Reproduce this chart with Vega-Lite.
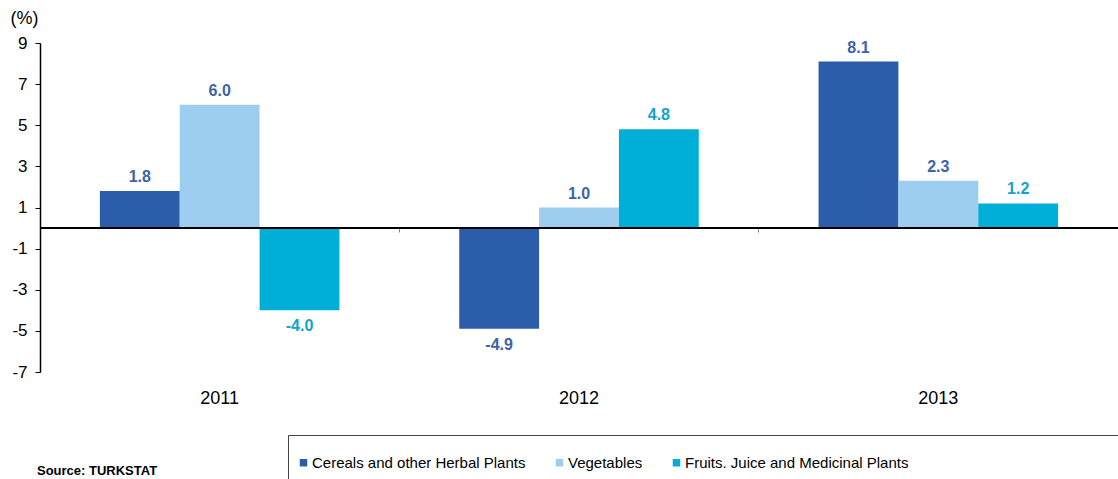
{
  "$schema": "https://vega.github.io/schema/vega-lite/v6.json",
  "width": 1078,
  "height": 329,
  "autosize": {"type": "none"},
  "padding": {"left": 40, "top": 43, "right": 0, "bottom": 107},
  "background": "white",
  "config": {"view": {"stroke": null}, "font": "Liberation Sans", "locale": {"number": {"decimal": ".", "thousands": ",", "grouping": [3], "currency": ["$", ""], "minus": "-"}}},
  "title": {"text": "Source: TURKSTAT", "orient": "bottom", "anchor": "start", "fontSize": 13, "fontWeight": "bold", "color": "#000000", "offset": -9, "dx": 27, "baseline": "middle"},
  "data": {"values": [
    {"year": "2011", "series": "Cereals and other Herbal Plants", "value": 1.8},
    {"year": "2011", "series": "Vegetables", "value": 6.0},
    {"year": "2011", "series": "Fruits. Juice and Medicinal Plants", "value": -4.0},
    {"year": "2012", "series": "Cereals and other Herbal Plants", "value": -4.9},
    {"year": "2012", "series": "Vegetables", "value": 1.0},
    {"year": "2012", "series": "Fruits. Juice and Medicinal Plants", "value": 4.8},
    {"year": "2013", "series": "Cereals and other Herbal Plants", "value": 8.1},
    {"year": "2013", "series": "Vegetables", "value": 2.3},
    {"year": "2013", "series": "Fruits. Juice and Medicinal Plants", "value": 1.2}
  ]},
  "resolve": {"axis": {"x": "independent"}, "scale": {"color": "independent"}},
  "layer": [
    {
      "mark": {"type": "bar"},
      "encoding": {
        "x": {"field": "year", "type": "nominal", "scale": {"paddingInner": 0, "paddingOuter": 0},
              "axis": {"orient": "bottom", "offset": -144, "domain": false, "labels": false, "ticks": true, "tickSize": 4, "tickColor": "#888888", "bandPosition": 0, "title": null, "grid": false}},
        "xOffset": {"field": "series", "type": "nominal", "sort": ["Cereals and other Herbal Plants", "Vegetables", "Fruits. Juice and Medicinal Plants"], "scale": {"paddingInner": 0, "paddingOuter": 0.75}},
        "y": {"field": "value", "type": "quantitative", "scale": {"domain": [-7, 9], "nice": false, "zero": false},
              "axis": {"values": [-7, -5, -3, -1, 1, 3, 5, 7, 9], "grid": false, "domainColor": "#000000", "domainWidth": 1.5, "tickColor": "#000000", "tickSize": 5, "labelFontSize": 17, "labelColor": "#000000", "labelPadding": 8, "title": "(%)", "titleAngle": 0, "titleAlign": "left", "titleBaseline": "middle", "titleX": -30, "titleY": -25, "titleFontSize": 18, "titleFontWeight": "normal", "titleColor": "#000000"}},
        "color": {"field": "series", "type": "nominal", "sort": ["Cereals and other Herbal Plants", "Vegetables", "Fruits. Juice and Medicinal Plants"],
                  "scale": {"domain": ["Cereals and other Herbal Plants", "Vegetables", "Fruits. Juice and Medicinal Plants"], "range": ["#2B5DAA", "#9DCEF0", "#00AFD7"]},
                  "legend": {"orient": "none", "legendX": 248, "legendY": 392, "direction": "horizontal", "title": " ", "titleFontSize": 6, "titlePadding": 6, "padding": 8, "strokeColor": "#444444", "symbolType": "square", "symbolSize": 56, "symbolStrokeWidth": 0, "labelFontSize": 15, "labelColor": "#000000", "columnPadding": 26, "labelOffset": 1, "labelLimit": 2000,
                             "labelExpr": "datum.label == 'Fruits. Juice and Medicinal Plants' ? pad(datum.label, 110, '\u2800') : datum.label"}}
      }
    },
    {
      "data": {"values": [{"z": 0}]},
      "mark": {"type": "rule", "color": "#000000", "strokeWidth": 2},
      "encoding": {"y": {"field": "z", "type": "quantitative"}}
    },
    {
      "transform": [{"filter": "datum.value >= 0"}],
      "mark": {"type": "text", "baseline": "bottom", "dy": -6, "fontSize": 16, "fontWeight": "bold"},
      "encoding": {
        "x": {"field": "year", "type": "nominal", "axis": {"orient": "bottom", "domain": false, "ticks": false, "labelFontSize": 18, "labelColor": "#000000", "labelPadding": 17, "labelAngle": 0, "title": null, "grid": false}},
        "xOffset": {"field": "series", "type": "nominal", "sort": ["Cereals and other Herbal Plants", "Vegetables", "Fruits. Juice and Medicinal Plants"]},
        "y": {"field": "value", "type": "quantitative"},
        "text": {"field": "value", "type": "quantitative", "format": ".1f"},
        "color": {"field": "series", "type": "nominal", "scale": {"domain": ["Cereals and other Herbal Plants", "Vegetables", "Fruits. Juice and Medicinal Plants"], "range": ["#3D64A6", "#3D64A6", "#12A3CF"]}, "legend": null}
      }
    },
    {
      "transform": [{"filter": "datum.value < 0"}],
      "mark": {"type": "text", "baseline": "top", "dy": 8, "fontSize": 16, "fontWeight": "bold"},
      "encoding": {
        "x": {"field": "year", "type": "nominal", "axis": null},
        "xOffset": {"field": "series", "type": "nominal", "sort": ["Cereals and other Herbal Plants", "Vegetables", "Fruits. Juice and Medicinal Plants"]},
        "y": {"field": "value", "type": "quantitative"},
        "text": {"field": "value", "type": "quantitative", "format": ".1f"},
        "color": {"field": "series", "type": "nominal", "scale": {"domain": ["Cereals and other Herbal Plants", "Vegetables", "Fruits. Juice and Medicinal Plants"], "range": ["#3D64A6", "#3D64A6", "#12A3CF"]}, "legend": null}
      }
    }
  ]
}
